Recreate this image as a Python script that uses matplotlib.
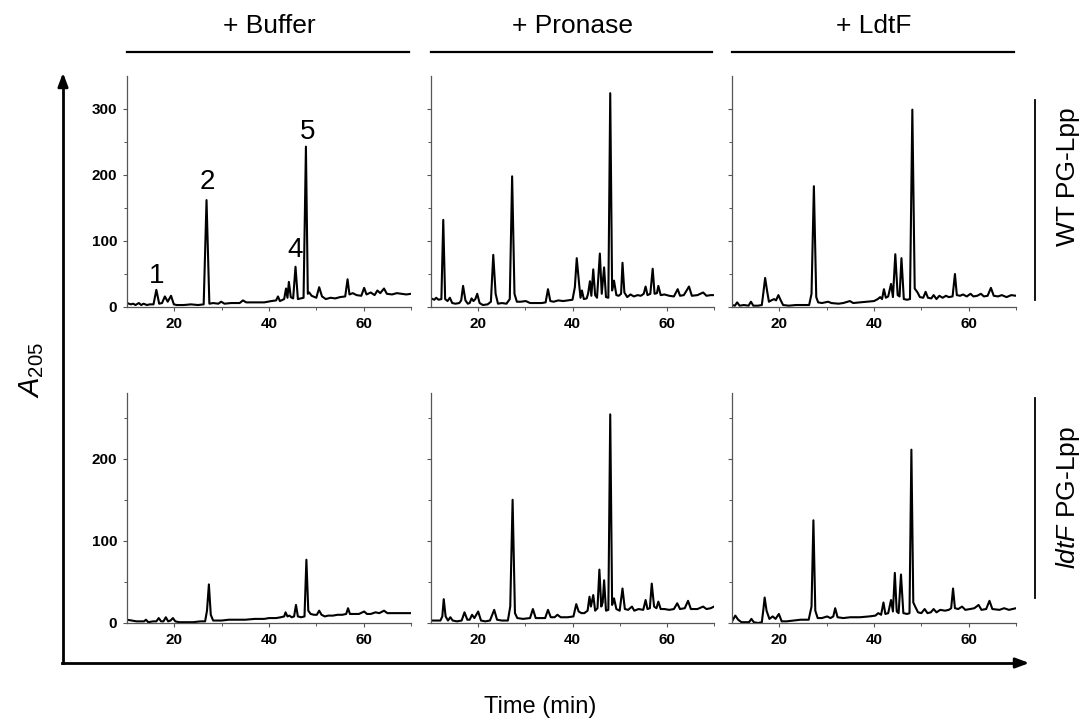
import matplotlib
matplotlib.use("Agg")
import matplotlib.pyplot as plt
from matplotlib.lines import Line2D

plt.rcParams['font.family'] = ['Liberation Sans', 'DejaVu Sans']
plt.rcParams['mathtext.fontset'] = 'custom'
plt.rcParams['mathtext.rm'] = 'Liberation Sans'
plt.rcParams['mathtext.it'] = 'Liberation Sans:italic'

# ---------------- data (time [min], A205) ----------------
conditions = ["+ Buffer", "+ Pronase", "+ LdtF"]
strains = ["WT PG-Lpp", r"$\mathit{ldtF}$ PG-Lpp"]
x_ticks = [20, 40, 60]
y_ticks_top = [0, 100, 200, 300]
y_ticks_bottom = [0, 100, 200]
peak_labels = ["1", "2", "4", "5"]
peak_label_pos = [(16.3, 28), (26.9, 170), (45.5, 66), (48.2, 246)]

buf_wt = [(10, 6), (10.8, 4), (11.3, 5), (11.8, 3), (12.5, 6), (13, 3), (13.5, 5), (14.2, 3),
          (14.8, 4), (15.6, 4), (16.2, 26), (16.8, 5), (17.4, 6), (18.0, 16), (18.6, 8), (19.3, 17),
          (19.9, 4), (20.5, 3), (22, 3), (23.5, 4), (25, 3), (26.2, 4), (26.8, 162), (27.4, 5),
          (28.2, 6), (29.3, 5), (29.9, 8), (30.6, 5), (32, 6), (33.8, 6), (34.5, 10), (35.2, 7),
          (37, 7), (39, 7), (40.5, 9), (41.5, 10), (41.9, 16), (42.3, 9), (43.2, 12), (43.6, 28),
          (43.9, 14), (44.2, 38), (44.6, 15), (45.1, 13), (45.6, 61), (46.1, 12), (47.3, 14),
          (47.8, 243), (48.2, 20), (48.5, 22), (49, 17), (50, 14), (50.6, 30), (51.2, 16), (52, 12),
          (53, 14), (54, 13), (55, 15), (56.1, 16), (56.6, 42), (57, 19), (57.7, 21), (58.5, 18),
          (59.5, 17), (60.1, 29), (60.6, 19), (61.5, 22), (62.3, 18), (62.9, 25), (63.5, 21),
          (64.3, 28), (64.9, 20), (66, 19), (67, 21), (68, 20), (69, 19), (70, 20)]

pro_wt = [(10, 13), (10.7, 11), (11.1, 14), (11.6, 11), (12.2, 12), (12.6, 132), (13.0, 12),
          (13.5, 9), (14.0, 14), (14.5, 6), (15.2, 5), (16.0, 6), (16.4, 10), (16.8, 32), (17.3, 10),
          (17.8, 5), (18.2, 6), (18.6, 13), (19.0, 9), (19.4, 12), (19.8, 20), (20.3, 6), (21, 3),
          (22, 4), (22.7, 8), (23.2, 79), (23.7, 20), (24.2, 5), (25, 6), (26, 5), (26.7, 12),
          (27.2, 198), (27.7, 20), (28.2, 8), (29, 8), (30.1, 9), (31, 6), (32, 6), (33.5, 6),
          (34.3, 7), (34.8, 27), (35.3, 9), (36, 8), (37, 10), (38, 9), (39, 10), (40, 11),
          (40.5, 30), (40.9, 74), (41.4, 35), (41.7, 14), (42, 25), (42.4, 12), (43.0, 13),
          (43.3, 20), (43.7, 39), (44.0, 17), (44.4, 57), (44.8, 18), (45.2, 14), (45.8, 81),
          (46.2, 20), (46.7, 60), (47.1, 15), (47.6, 14), (48.0, 324), (48.4, 25), (48.8, 40),
          (49.3, 18), (49.8, 17), (50.3, 20), (50.6, 67), (51.0, 22), (51.6, 15), (52.3, 19),
          (53, 16), (53.8, 18), (54.5, 17), (55.1, 20), (55.5, 31), (55.9, 18), (56.5, 20),
          (57.0, 58), (57.4, 20), (57.9, 21), (58.2, 32), (58.7, 18), (59.5, 19), (60.5, 17),
          (61.5, 16), (62.3, 27), (62.8, 17), (63.6, 18), (64.7, 31), (65.3, 17), (66.5, 18),
          (67.7, 22), (68.4, 17), (69.3, 18), (70, 18)]

ldt_wt = [(10, 3), (10.6, 2), (11.1, 7), (11.6, 2), (12.5, 3), (13.5, 2), (14.0, 8), (14.5, 2),
          (15.5, 2), (16.3, 3), (16.6, 20), (17.0, 44), (17.4, 25), (17.8, 8), (18.3, 10),
          (18.9, 12), (19.3, 10), (19.8, 18), (20.3, 10), (20.8, 3), (22, 2), (23.5, 3), (25, 3),
          (26.3, 3), (26.8, 20), (27.3, 183), (27.8, 15), (28.2, 7), (29, 6), (30.3, 8), (31, 6),
          (32.5, 5), (33.5, 6), (34.9, 9), (35.6, 6), (37, 7), (38.5, 8), (40, 9), (40.8, 12),
          (41.3, 15), (41.7, 12), (42.1, 27), (42.5, 14), (43.0, 16), (43.6, 35), (44.0, 15),
          (44.5, 80), (45.0, 18), (45.4, 16), (45.8, 74), (46.3, 12), (47.0, 11), (47.6, 12),
          (48.1, 299), (48.6, 28), (49.2, 22), (49.7, 15), (50.4, 14), (50.9, 23), (51.4, 14),
          (52.1, 13), (52.6, 18), (53.2, 12), (53.8, 17), (54.5, 14), (55.2, 17), (55.8, 15),
          (56.6, 16), (57.1, 50), (57.5, 18), (58.2, 17), (58.8, 19), (59.6, 16), (60.4, 20),
          (61.0, 16), (61.8, 17), (62.6, 20), (63.2, 16), (64.0, 17), (64.7, 29), (65.3, 17),
          (66.2, 16), (67, 18), (68, 15), (69, 18), (70, 17)]

buf_ko = [(10, 4), (11, 3), (12, 2), (13, 2), (13.6, 2), (14.0, 4), (14.5, 1), (15.5, 2),
          (16.2, 2), (16.7, 6), (17.2, 2), (17.7, 2), (18.2, 7), (18.7, 2), (19.2, 3), (19.7, 6),
          (20.2, 2), (21, 1), (22.5, 1), (24, 1), (25.5, 2), (26.5, 2), (26.9, 15), (27.3, 47),
          (27.7, 10), (28.2, 3), (29, 3), (30, 3), (31.5, 4), (33, 4), (35, 4), (37, 5), (39, 5),
          (40, 6), (41.5, 6), (42.5, 7), (43.2, 8), (43.5, 13), (43.9, 8), (44.3, 9), (44.8, 7),
          (45.3, 8), (45.7, 22), (46.1, 8), (46.8, 7), (47.5, 8), (47.9, 77), (48.3, 15),
          (48.8, 11), (49.5, 10), (50.1, 10), (50.6, 15), (51.1, 10), (51.8, 8), (52.5, 9),
          (53.5, 9), (54.5, 10), (55.5, 10), (56.3, 11), (56.7, 18), (57.1, 11), (58, 11),
          (59, 11), (60.1, 14), (60.7, 11), (61.5, 11), (62.5, 13), (63.3, 12), (64.3, 15),
          (65, 12), (66.5, 12), (68, 12), (70, 12)]

pro_ko = [(10, 3), (11, 3), (12, 3), (12.4, 8), (12.7, 29), (13.1, 8), (13.6, 3), (14.1, 7),
          (14.6, 3), (15.5, 2), (16.5, 3), (17.1, 13), (17.7, 4), (18.2, 4), (18.7, 10), (19.2, 6),
          (20.0, 14), (20.6, 3), (21.5, 2), (22.5, 3), (23.4, 16), (24.0, 4), (25, 3), (26.3, 3),
          (26.8, 20), (27.3, 150), (27.8, 12), (28.3, 6), (29.5, 5), (31, 6), (31.6, 17),
          (32.2, 6), (33.5, 6), (34.2, 6), (34.8, 16), (35.4, 7), (36.2, 7), (36.8, 10), (37.5, 7),
          (39, 7), (40.2, 8), (40.8, 23), (41.3, 14), (41.9, 12), (42.5, 12), (43.2, 15),
          (43.6, 32), (43.9, 20), (44.4, 34), (44.8, 15), (45.3, 18), (45.7, 65), (46.1, 20),
          (46.4, 25), (46.7, 52), (47.1, 15), (47.6, 16), (48.0, 254), (48.4, 22), (48.8, 30),
          (49.3, 17), (50, 15), (50.6, 42), (51.1, 17), (51.8, 16), (52.6, 20), (53.1, 15),
          (54, 17), (55.0, 16), (55.5, 28), (55.9, 17), (56.4, 18), (56.8, 48), (57.3, 20),
          (57.8, 18), (58.2, 26), (58.7, 17), (59.5, 17), (60.5, 16), (61.5, 17), (62.2, 24),
          (62.8, 17), (63.8, 18), (64.5, 27), (65.1, 17), (66.5, 17), (67.7, 20), (68.4, 17),
          (69.3, 18), (70, 20)]

ldt_ko = [(10, 2), (10.7, 9), (11.3, 4), (12, 1), (13, 1), (13.6, 1), (14.1, 5), (14.6, 1),
          (15.5, 0), (16.3, 1), (16.6, 15), (16.9, 31), (17.3, 15), (17.9, 5), (18.6, 8), (19.2, 5),
          (19.9, 11), (20.5, 2), (21.5, 2), (23, 3), (24.5, 4), (26.2, 4), (26.8, 20), (27.2, 125),
          (27.6, 15), (28.1, 6), (29, 6), (30.1, 8), (30.8, 6), (31.4, 8), (31.8, 18), (32.3, 7),
          (33.5, 6), (35, 7), (37, 7), (39, 8), (40.3, 9), (40.9, 12), (41.5, 10), (42, 25),
          (42.4, 11), (43.0, 12), (43.6, 28), (44.0, 14), (44.4, 61), (44.8, 14), (45.2, 12),
          (45.7, 59), (46.2, 12), (47.0, 11), (47.5, 12), (47.9, 211), (48.3, 25), (48.7, 20),
          (49.3, 13), (50.0, 12), (50.7, 17), (51.3, 12), (52, 13), (52.6, 17), (53.2, 13),
          (54, 16), (55, 15), (55.8, 16), (56.3, 18), (56.7, 42), (57.1, 18), (57.8, 17),
          (58.6, 20), (59.3, 16), (60.3, 17), (61.2, 18), (62.1, 22), (62.7, 16), (63.7, 17),
          (64.4, 27), (65.0, 17), (66.5, 16), (67.5, 18), (68.5, 16), (70, 18)]

traces = [[buf_wt, pro_wt, ldt_wt], [buf_ko, pro_ko, ldt_ko]]

# ---------------- layout (pixels) ----------------
W, H = 1088, 720
fig = plt.figure(figsize=(W / 100, H / 100), dpi=100)

col_x = [(127, 411), (431, 714), (732, 1016)]
row_y = [(76, 307), (393, 623)]
ylims = [350, 280]
spine_col = "#555555"

def fx(px):
    return px / W

def fy(py):
    return 1 - py / H

for r in range(2):
    for c in range(3):
        x0, x1 = col_x[c]
        yt, yb = row_y[r]
        ax = fig.add_axes([fx(x0), fy(yb), (x1 - x0) / W, (yb - yt) / H])
        pts = traces[r][c]
        ax.plot([p[0] for p in pts], [p[1] for p in pts], color="black", lw=1.5,
                solid_joinstyle="round")
        ax.set_xlim(10, 70)
        ax.set_ylim(0, ylims[r])
        for s in ["top", "right"]:
            ax.spines[s].set_visible(False)
        for s in ["left", "bottom"]:
            ax.spines[s].set_color(spine_col)
            ax.spines[s].set_linewidth(0.9)
        ax.set_xticks(x_ticks)
        ax.set_xticks([30, 50, 70], minor=True)
        ax.set_yticks(y_ticks_top if r == 0 else y_ticks_bottom)
        ax.set_yticks([50, 150, 250], minor=True)
        ax.tick_params(which="major", direction="out", length=3, width=0.8, color=spine_col,
                       labelsize=11, pad=4)
        ax.tick_params(which="minor", direction="out", length=2, width=0.7, color=spine_col)
        for lab in ax.get_xticklabels() + ax.get_yticklabels():
            lab.set_fontweight("bold")
        if c != 0:
            ax.set_yticklabels([])
        if r == 0 and c == 0:
            for txt, (tx, ty) in zip(peak_labels, peak_label_pos):
                ax.text(tx, ty, txt, ha="center", va="bottom", fontsize=20)

# column headers with lines
for c, name in enumerate(conditions):
    x0, x1 = col_x[c]
    fig.text(fx((x0 + x1) / 2), fy(26), name, ha="center", va="center", fontsize=19)
    fig.add_artist(Line2D([fx(x0), fx(x1 - 2)], [fy(52), fy(52)], color="black", lw=1.6))

# row labels with vertical lines
row_label_y = [177, 497]
row_line = [(100, 300), (398, 598)]
for r, name in enumerate(strains):
    fig.add_artist(Line2D([fx(1035), fx(1035)], [fy(row_line[r][0]), fy(row_line[r][1])],
                          color="black", lw=1.3))
    fig.text(fx(1068), fy(row_label_y[r]), name, ha="center", va="center", rotation=90,
             fontsize=19)

# big axes arrows
fig.add_artist(Line2D([fx(63), fx(63)], [fy(663), fy(82)], color="black", lw=2))
fig.add_artist(Line2D([fx(62), fx(1020)], [fy(663), fy(663)], color="black", lw=2))
ax_all = fig.add_axes([0, 0, 1, 1], facecolor="none")
ax_all.set_xlim(0, W)
ax_all.set_ylim(H, 0)
ax_all.axis("off")
ax_all.annotate("", xy=(63, 70), xytext=(63, 90),
                arrowprops=dict(arrowstyle="-|>,head_length=0.8,head_width=0.3", color="black", lw=2))
ax_all.annotate("", xy=(1032, 663), xytext=(1012, 663),
                arrowprops=dict(arrowstyle="-|>,head_length=0.8,head_width=0.3", color="black", lw=2))

fig.text(fx(32), fy(370), r"$\mathit{A}_{205}$", ha="center", va="center", rotation=90, fontsize=21)
fig.text(fx(540), fy(707), "Time (min)", ha="center", va="center", fontsize=17)

fig.savefig("out.png", dpi=100)
